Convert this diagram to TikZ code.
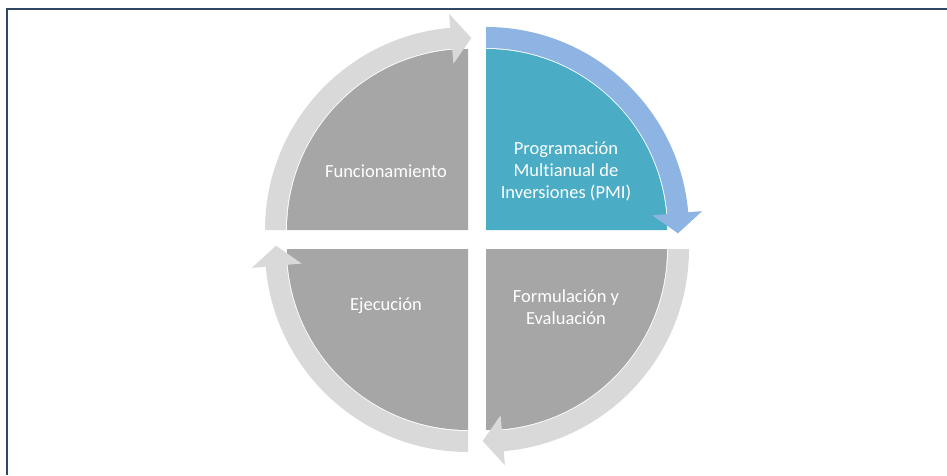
\documentclass[tikz,border=0pt]{standalone}
\usepackage{fontspec}
\setmainfont{Carlito}[Ligatures=NoCommon]
\usetikzlibrary{positioning}

\definecolor{sectorgray}{HTML}{A6A6A6}
\definecolor{arrowgray}{HTML}{D9D9D9}
\definecolor{pmiteal}{HTML}{4BACC6}
\definecolor{pmiblue}{HTML}{8EB4E3}
\definecolor{framecol}{HTML}{2F4763}

\tikzset{
  steplabel/.style={text=white, align=center, font=\fontsize{18.5}{22}\selectfont},
}

% quarter disc: corner, start angle, colour
\newcommand{\quadsector}[3]{%
  \fill[#3] (#1) -- ++(#2:181) arc[start angle=#2, end angle=#2-90, radius=181] -- cycle;}
% curved arrow round a quarter: corner, start angle, colour
\newcommand{\cyclearrow}[3]{%
  \fill[#3, shift={(#1)}] (#2:182) arc[start angle=#2, end angle=#2-85, radius=182]
    -- (#2-85:167) -- (#2-91:192) -- (#2-85:217)
    -- (#2-85:203) arc[start angle=#2-85, end angle=#2, radius=203] -- cycle;}

\begin{document}
\begin{tikzpicture}[x=1pt, y=1pt]

    \useasboundingbox (0,0) rectangle (947,475);

    \coordinate (ul) at (468,245);
    \coordinate (ur) at (486,245);
    \coordinate (lr) at (486,226);
    \coordinate (ll) at (468,226);

    \draw[framecol, line width=2.6pt] (7,0) -- (7,466) -- (947,466);

    \quadsector{ul}{180}{sectorgray}
    \quadsector{ur}{90}{pmiteal}
    \quadsector{lr}{0}{sectorgray}
    \quadsector{ll}{270}{sectorgray}

    \cyclearrow{ul}{180}{arrowgray}
    \cyclearrow{ur}{90}{pmiblue}
    \cyclearrow{lr}{0}{arrowgray}
    \cyclearrow{ll}{270}{arrowgray}

    \node[steplabel] (fun) at ([shift={(-82,59)}]ul) {Funcionamiento};
    \node[steplabel] (pmi) at ([shift={(80,59)}]ur) {Programación\\Multianual de\\Inversiones (PMI)};
    \node[steplabel] (form) at ([shift={(80,-58)}]lr) {Formulación y\\Evaluación};
    \node[steplabel] (eje) at ([shift={(-82,-57)}]ll) {Ejecución};

\end{tikzpicture}
\end{document}
